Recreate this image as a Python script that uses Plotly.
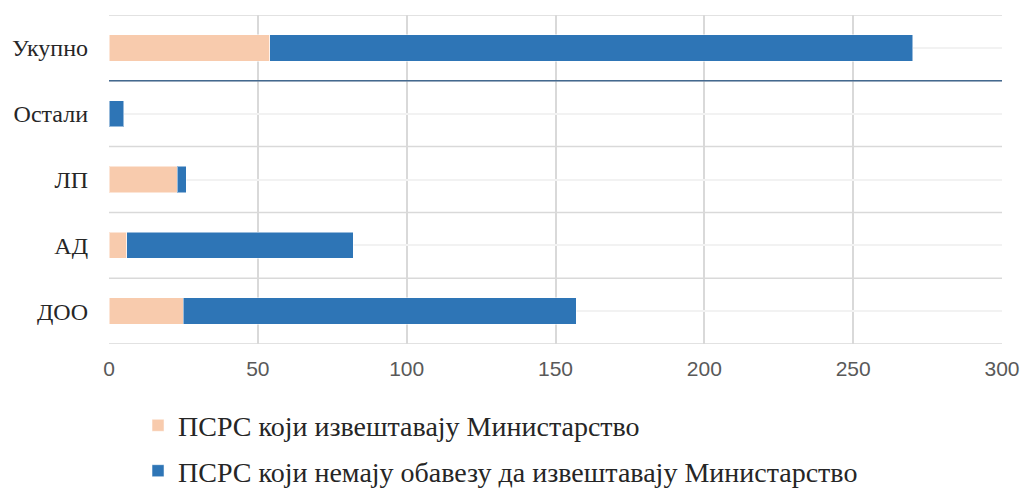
import plotly.graph_objects as go

categories = ["ДОО", "АД", "ЛП", "Остали", "Укупно"]
reporting = [25, 6, 23, 0, 54]
not_obliged = [132, 76, 3, 5, 216]
series_names = ["ПСРС који извештавају Министарство",
                "ПСРС који немају обавезу да извештавају Министарство"]
x_ticks = [0, 50, 100, 150, 200, 250, 300]

PEACH = "#F8CBAD"
BLUE = "#2E75B6"
FONT = "Liberation Serif, Times New Roman, serif"
NUMFONT = "Liberation Sans Narrow, Liberation Sans, Arial, sans-serif"

fig = go.Figure()
fig.add_trace(go.Bar(y=categories, x=reporting, orientation="h", name=series_names[0],
                     legendgroup="a",
                     marker=dict(color=PEACH, line=dict(color="rgba(255,255,255,0.5)", width=1))))
fig.add_trace(go.Bar(y=categories, x=not_obliged, orientation="h", name=series_names[1],
                     legendgroup="b",
                     marker=dict(color=BLUE, line=dict(color="rgba(255,255,255,0.5)", width=1))))

# category boundary lines
for i in range(len(categories) + 1):
    b = i - 0.5
    fig.add_shape(type="line", xref="paper", yref="y", x0=0, x1=1, y0=b, y1=b,
                  line=dict(color="#D9D9D9", width=1.5), layer="below")
# separator before total
sep = len(categories) - 1.5
fig.add_shape(type="line", xref="paper", yref="y", x0=0, x1=1, y0=sep, y1=sep,
              line=dict(color="#44698F", width=1.5), layer="above")

fig.update_layout(
    barmode="stack",
    bargap=0.6,
    width=1023, height=488,
    margin=dict(l=109, r=21, t=15, b=144, autoexpand=False),
    plot_bgcolor="white", paper_bgcolor="white",
    font=dict(family=FONT, color="#262626"),
    showlegend=True,
    legend=dict(orientation="v", x=0.0325, xanchor="left", y=-0.172, yanchor="top",
                font=dict(size=28, family=FONT, color="#262626"),
                traceorder="grouped", itemwidth=30, tracegroupgap=6,
                bgcolor="rgba(0,0,0,0)"),
)
fig.update_xaxes(range=[0, 300], tickvals=x_ticks, showgrid=True, gridcolor="#D9D9D9",
                 gridwidth=1.5, zeroline=False, showline=False, ticks="",
                 ticklabelstandoff=10, automargin=False,
                 tickfont=dict(size=21, family=NUMFONT, color="#595959"))
fig.update_yaxes(categoryorder="array", categoryarray=categories, range=[-0.5, 4.5],
                 showgrid=True, gridcolor="#F2F2F2", gridwidth=1.5, zeroline=False,
                 showline=False, ticks="", ticklabelstandoff=20, automargin=False,
                 tickfont=dict(size=24, family=FONT, color="#262626"))
fig.write_html("out.html", config={"displayModeBar": False},
               post_script="document.body.style.margin='0';document.body.style.overflow='hidden';")
